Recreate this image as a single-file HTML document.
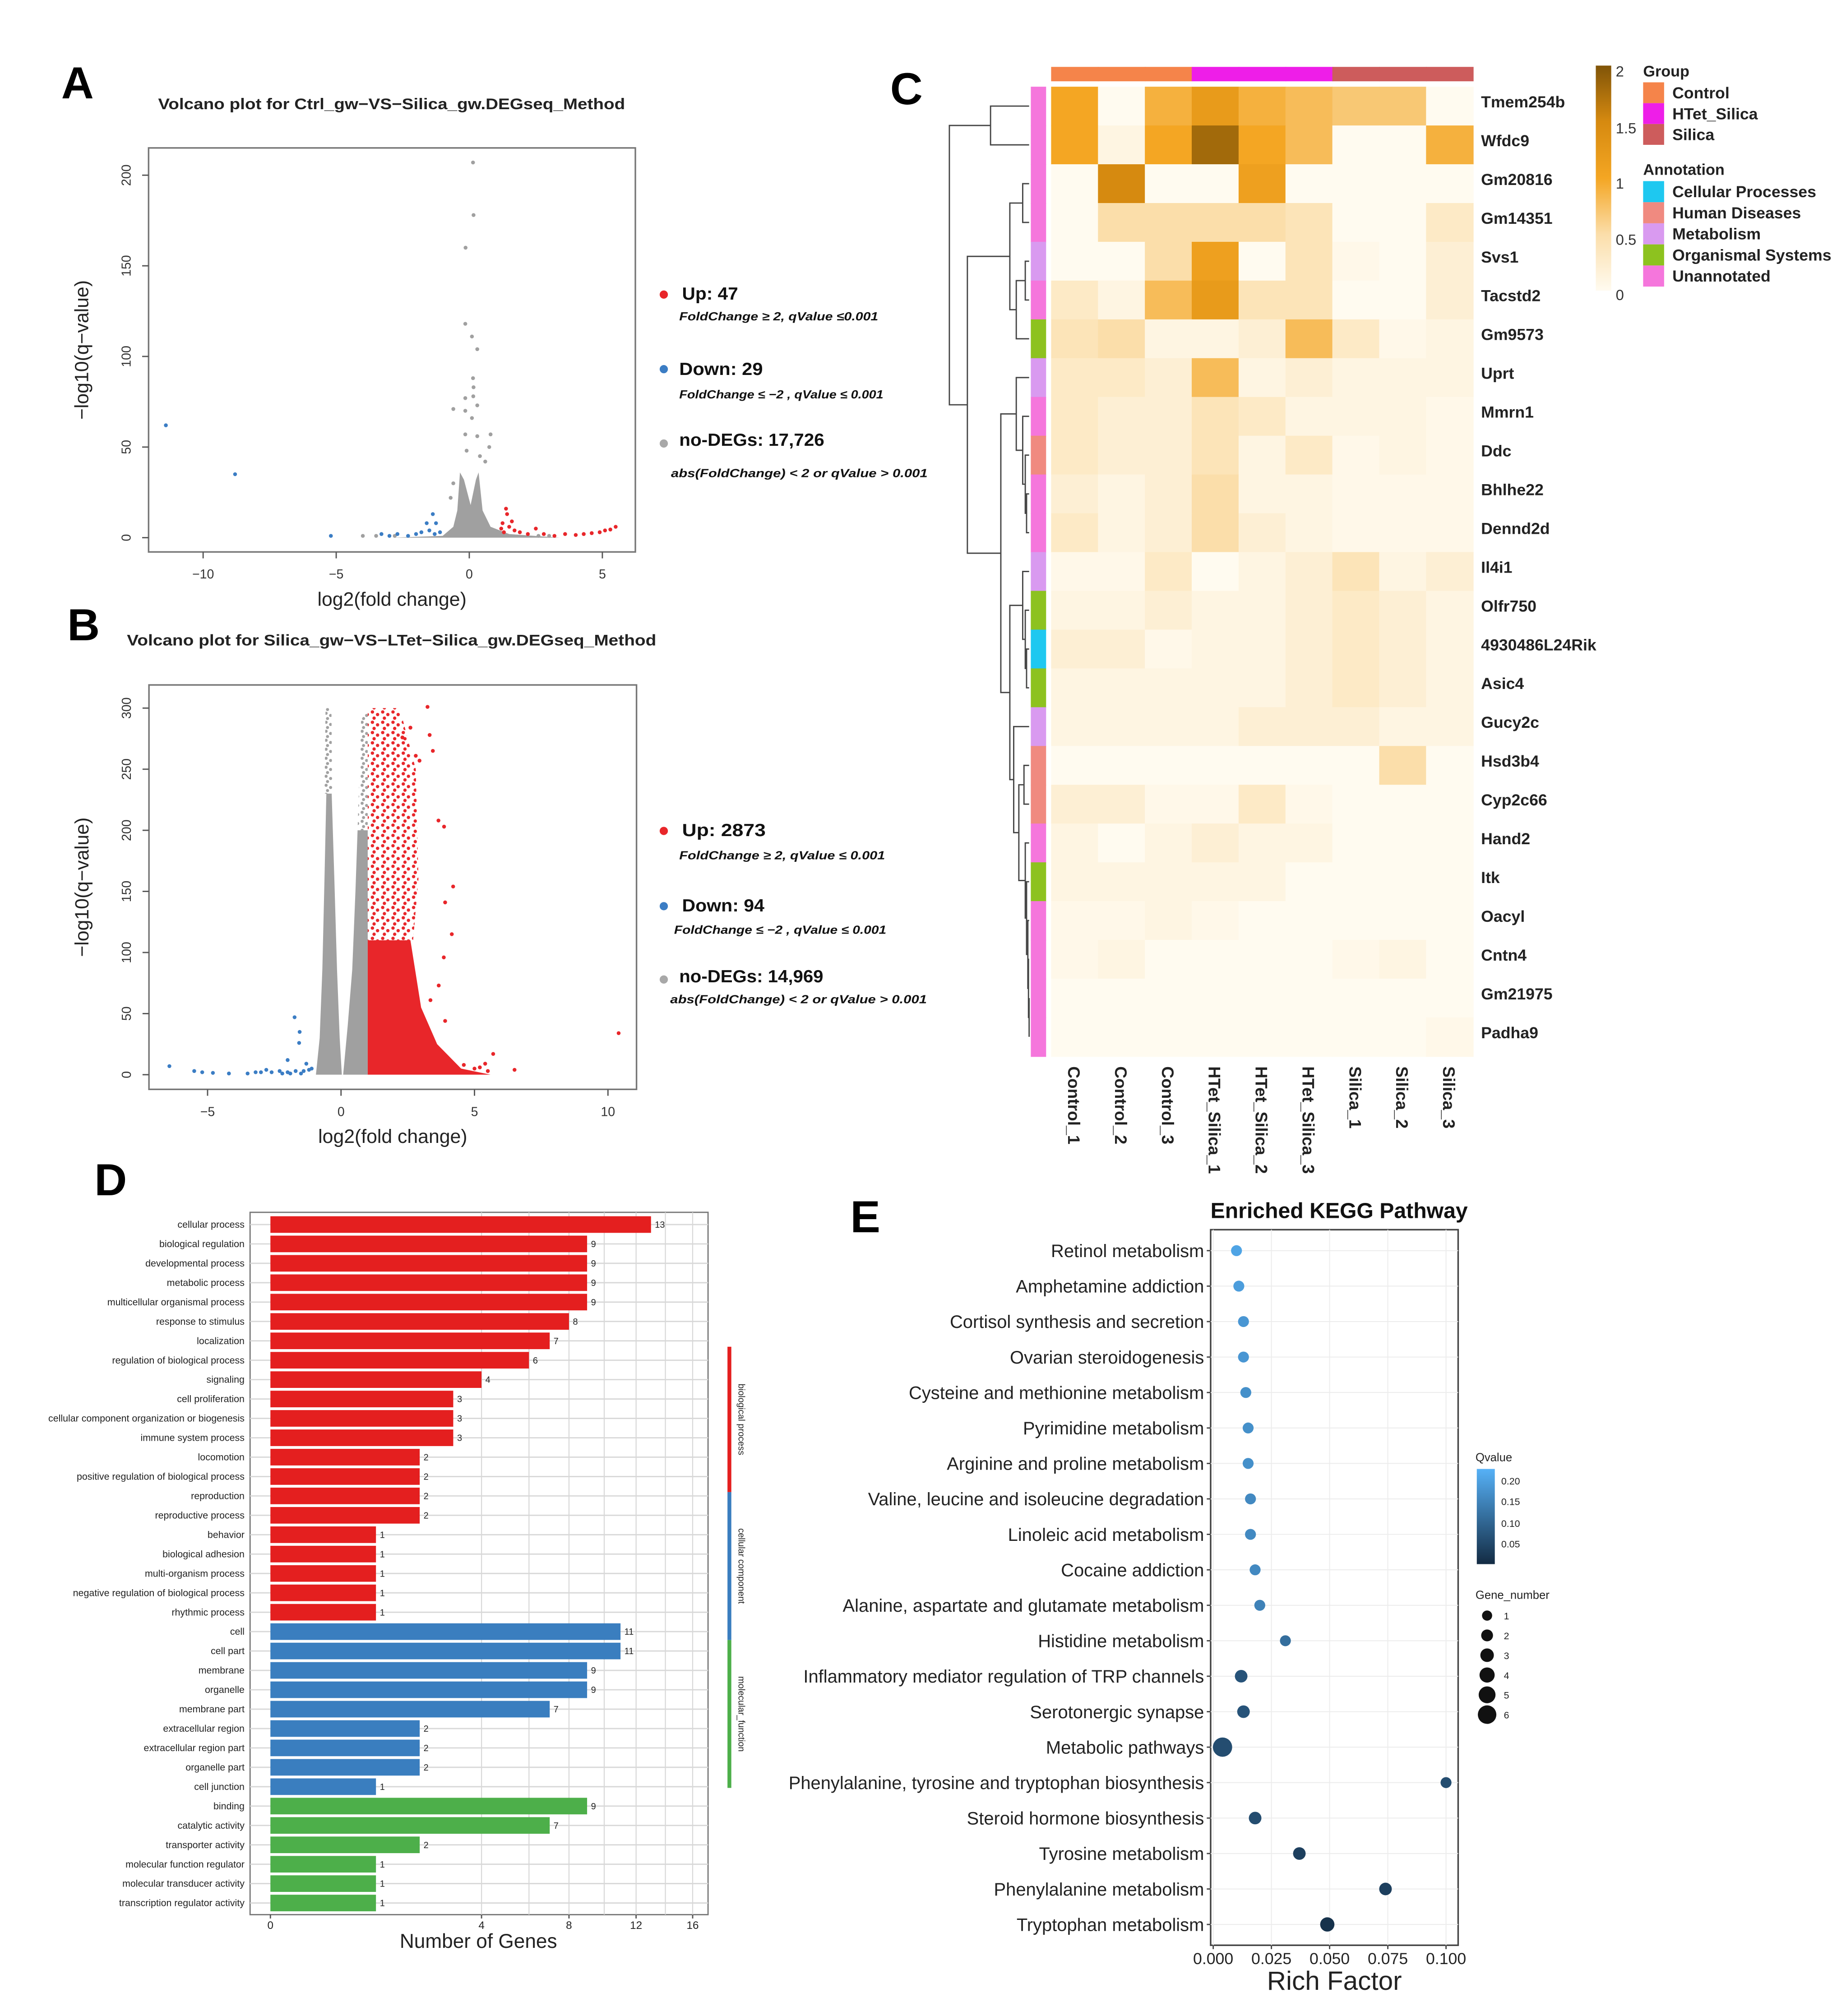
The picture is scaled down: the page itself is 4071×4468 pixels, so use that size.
<!DOCTYPE html>
<html><head><meta charset="utf-8"><style>
html,body{margin:0;padding:0;background:#fff;}
svg{display:block;font-family:"Liberation Sans",Arial,sans-serif;}
.nar{font-family:"Liberation Sans Narrow","Liberation Sans",sans-serif;}
</style></head><body>
<svg id="fig" width="4071" height="4468" viewBox="0 0 1428 1567.3" preserveAspectRatio="none">
<defs>
<pattern id="dotsGray" patternUnits="userSpaceOnUse" width="7" height="7"><circle cx="1.5" cy="1.5" r="1.2" fill="#a0a0a0"/><circle cx="5" cy="3.2" r="1.2" fill="#a0a0a0"/><circle cx="2.6" cy="5.6" r="1.2" fill="#a0a0a0"/></pattern>
<pattern id="dotsRed" patternUnits="userSpaceOnUse" width="8" height="8"><circle cx="1.5" cy="1.5" r="1.3" fill="#e8262a"/><circle cx="5.5" cy="3.5" r="1.3" fill="#e8262a"/><circle cx="2.8" cy="6.3" r="1.3" fill="#e8262a"/></pattern>
</defs>
<rect width="1428" height="1568" fill="#fff"/>
<g id="gA"></g>
<g id="gB"></g>
<g id="gC"></g>
<g id="gD"></g>
<g id="gE"></g>
</svg>
<script>
// ---------- DATA ----------
// Panel A volcano
const aGrayEnv=[[-2.9,0],[-1,1],[-0.6,6],[-0.45,15],[-0.35,36],[-0.2,32],[0.05,18],[0.25,32],[0.35,36],[0.5,15],[0.8,6],[1.5,2],[3.4,0]];
const aGrayPts=[[0.14,207],[0.16,178],[-0.14,160],[-0.15,118],[0.1,111],[0.3,104],[0.14,88],[0.16,83],[-0.15,77],[0.15,78],[0.3,73],[-0.6,71],[-0.15,70],[0.1,66],[0.8,57],[-0.15,57],[0.3,56],[0.75,50],[-0.1,48],[0.4,45],[0.6,42],[-0.6,30],[-0.7,22],[-2.8,1],[-3.5,1],[-4,1],[2.6,1],[3,1]];
const aRedPts=[[1.38,16],[1.42,13],[1.2,5],[1.3,3],[1.5,6],[1.7,4],[1.9,3],[2.2,2],[2.5,5],[2.8,2],[3.2,1],[3.6,2],[4,1.5],[4.3,2],[4.6,2.5],[4.9,3],[5.1,4],[5.3,4.5],[5.5,6],[1.6,9],[1.25,8]];
const aBluePts=[[-11.4,62],[-8.8,35],[-5.2,1],[-1.37,13],[-1.6,8],[-1.25,8],[-3.3,2],[-3,1],[-2.7,2],[-2.3,1],[-2,2],[-1.8,3],[-1.5,4],[-1.3,2],[-1.1,3]];
// Panel B volcano
const bGrayDense=[[-0.94,0],[-0.8,30],[-0.7,86],[-0.62,160],[-0.55,230],[-0.35,230],[-0.25,160],[-0.15,86],[-0.05,30],[0.03,0]];
const bGraySparse=[[-0.62,230],[-0.58,300],[-0.36,300],[-0.33,230]];
const bGrayRight=[[0.08,0],[0.25,40],[0.42,86],[0.54,150],[0.62,200],[1,200],[1,0]];
const bGrayRightSparse=[[0.62,200],[0.75,290],[1,300],[1,200]];
const bRedDense=[[1,0],[1,110],[2.6,110],[3.0,55],[3.6,25],[4.5,5],[5.6,0]];
const bRedSparse=[[1,110],[1,300],[2.2,300],[2.8,250],[2.9,160],[2.7,110]];
const bRedPts=[[3.24,301],[3.32,278],[3.44,265],[2.94,257],[3.65,208],[3.86,203],[4.2,154],[3.9,141],[4.15,115],[3.85,96],[3.9,44],[5.7,17],[6.5,4],[10.4,34],[5.0,5],[5.5,3],[3.66,73],[3.35,61],[2.8,261],[2.6,284],[2.3,276],[4.6,8],[5.2,6],[5.4,9]];
const bBluePts=[[-6.43,7],[-1.74,47],[-1.55,35],[-1.57,26],[-2.0,12],[-5.5,3],[-5.2,2],[-4.8,1.5],[-4.2,1],[-3.5,1],[-3,2],[-2.6,2],[-2.3,3],[-2,2],[-1.7,3],[-1.4,3],[-1.2,4],[-1.3,9],[-1.1,5],[-2.2,1],[-1.9,1],[-1.5,1],[-2.8,4],[-3.2,2]];
// Panel C heatmap
const genes=["Tmem254b","Wfdc9","Gm20816","Gm14351","Svs1","Tacstd2","Gm9573","Uprt","Mmrn1","Ddc","Bhlhe22","Dennd2d","Il4i1","Olfr750","4930486L24Rik","Asic4","Gucy2c","Hsd3b4","Cyp2c66","Hand2","Itk","Oacyl","Cntn4","Gm21975","Padha9"];
const samples=["Control_1","Control_2","Control_3","HTet_Silica_1","HTet_Silica_2","HTet_Silica_3","Silica_1","Silica_2","Silica_3"];
const heat=[
[1.0,0,0.9,1.2,0.9,0.8,0.7,0.7,0],
[1.0,0.1,1.0,1.8,1.0,0.8,0,0,0.9],
[0,1.5,0,0,1.1,0,0,0,0],
[0,0.5,0.5,0.5,0.5,0.4,0,0,0.3],
[0,0,0.5,1.1,0,0.4,0.05,0,0.2],
[0.3,0.1,0.8,1.2,0.4,0.4,0,0,0.2],
[0.4,0.5,0.1,0.1,0.2,0.8,0.3,0.05,0.1],
[0.3,0.3,0.2,0.8,0.1,0.2,0.1,0.1,0.1],
[0.3,0.2,0.2,0.4,0.3,0.1,0.1,0.1,0.05],
[0.3,0.2,0.2,0.4,0.1,0.3,0.05,0.1,0.05],
[0.2,0.1,0.2,0.5,0.1,0.1,0.05,0.05,0.05],
[0.3,0.1,0.2,0.5,0.2,0.1,0.05,0.05,0.05],
[0.05,0.05,0.3,0,0.1,0.2,0.4,0.1,0.2],
[0.1,0.1,0.2,0.1,0.1,0.2,0.3,0.2,0.1],
[0.2,0.2,0.05,0.1,0.1,0.2,0.3,0.2,0.1],
[0.1,0.1,0.1,0.1,0.1,0.2,0.3,0.2,0.1],
[0.1,0.1,0.1,0.1,0.2,0.2,0.2,0.1,0.1],
[0,0,0,0,0,0,0,0.5,0],
[0.2,0.2,0.05,0.05,0.3,0.05,0,0,0],
[0.1,0,0.1,0.2,0.1,0.1,0,0,0],
[0.1,0.1,0.1,0.1,0.1,0,0,0,0],
[0.05,0.05,0.1,0.05,0,0,0,0,0],
[0.05,0.1,0,0,0,0,0.05,0.1,0],
[0,0,0,0,0,0,0,0,0],
[0,0,0,0,0,0,0,0,0.05]];
const annot=["U","U","U","U","M","U","O","M","U","H","U","U","M","O","C","O","M","H","H","U","O","U","U","U","U"];
// Panel D GO
const goCats=["cellular process","biological regulation","developmental process","metabolic process","multicellular organismal process","response to stimulus","localization","regulation of biological process","signaling","cell proliferation","cellular component organization or biogenesis","immune system process","locomotion","positive regulation of biological process","reproduction","reproductive process","behavior","biological adhesion","multi-organism process","negative regulation of biological process","rhythmic process","cell","cell part","membrane","organelle","membrane part","extracellular region","extracellular region part","organelle part","cell junction","binding","catalytic activity","transporter activity","molecular function regulator","molecular transducer activity","transcription regulator activity"];
const goVals=[13,9,9,9,9,8,7,6,4,3,3,3,2,2,2,2,1,1,1,1,1,11,11,9,9,7,2,2,2,1,9,7,2,1,1,1];
const goGroup=["b","b","b","b","b","b","b","b","b","b","b","b","b","b","b","b","b","b","b","b","b","c","c","c","c","c","c","c","c","c","m","m","m","m","m","m"];
const goTicks=[0,4,8,12,16];
// Panel E KEGG
const keggPaths=["Retinol metabolism","Amphetamine addiction","Cortisol synthesis and secretion","Ovarian steroidogenesis","Cysteine and methionine metabolism","Pyrimidine metabolism","Arginine and proline metabolism","Valine, leucine and isoleucine degradation","Linoleic acid metabolism","Cocaine addiction","Alanine, aspartate and glutamate metabolism","Histidine metabolism","Inflammatory mediator regulation of TRP channels","Serotonergic synapse","Metabolic pathways","Phenylalanine, tyrosine and tryptophan biosynthesis","Steroid hormone biosynthesis","Tyrosine metabolism","Phenylalanine metabolism","Tryptophan metabolism"];
const keggRich=[0.010,0.011,0.013,0.013,0.014,0.015,0.015,0.016,0.016,0.018,0.020,0.031,0.012,0.013,0.004,0.100,0.018,0.037,0.074,0.049];
const keggQ=[0.20,0.19,0.18,0.18,0.17,0.17,0.17,0.16,0.16,0.16,0.15,0.12,0.08,0.08,0.07,0.07,0.07,0.05,0.05,0.03];
const keggN=[1,1,1,1,1,1,1,1,1,1,1,1,2,2,6,1,2,2,2,3];
const keggTicks=[0,0.025,0.05,0.075,0.1];

// ---------- HELPERS ----------
const NS="http://www.w3.org/2000/svg";
function mk(parent,tag,attrs,text){const e=document.createElementNS(NS,tag);for(const k in attrs)e.setAttribute(k,attrs[k]);if(text!==undefined)e.textContent=text;parent.appendChild(e);return e;}

// ---------- VOLCANO ----------
function volcano(g,cfg){
  const sx=v=>cfg.x0+v*cfg.kx, sy=v=>cfg.y0-v*cfg.ky;
  let e=mk(g,"text",{x:cfg.lx,y:cfg.ly,"font-size":35,"font-weight":"bold"},cfg.letter);
  
  
  e=mk(g,"text",{x:cfg.tx,y:cfg.ty,"font-size":12,"font-weight":"bold","text-anchor":"middle",fill:"#222",textLength:cfg.tw,lengthAdjust:"spacingAndGlyphs"},cfg.title);
  
  
  e=mk(g,"rect",{x:cfg.bx,y:cfg.by,width:cfg.bw,height:cfg.bh,fill:"#fff",stroke:"#777","stroke-width":1.2});
  
  
  cfg.envs.forEach(en=>{const p=mk(g,"polygon",{points:en[0].map(d=>sx(d[0])+","+sy(d[1])).join(" "),fill:en[1],opacity:en[2]});
    
    });
  const pts=(arr,col,name)=>arr.forEach(d=>{const c=mk(g,"circle",{cx:sx(d[0]),cy:sy(d[1]),r:1.5,fill:col});
    
    });
  pts(cfg.grayPts||[],"#a0a0a0","no-deg-point");
  pts(cfg.redPts,"#e8262a","up-point");
  pts(cfg.bluePts,"#3b7dc4","down-point");
  cfg.xt.forEach(v=>{mk(g,"line",{x1:sx(v),x2:sx(v),y1:cfg.by+cfg.bh,y2:cfg.by+cfg.bh+5,stroke:"#555"});
    const t=mk(g,"text",{x:sx(v),y:cfg.xtl,"font-size":10,"text-anchor":"middle",fill:"#333"},v<0?"\u2212"+(-v):v);
    
    });
  cfg.yt.forEach(v=>{mk(g,"line",{x1:cfg.bx-5,x2:cfg.bx,y1:sy(v),y2:sy(v),stroke:"#555"});
    const t=mk(g,"text",{x:cfg.bx-14,y:sy(v),"font-size":10,"text-anchor":"middle",fill:"#333",transform:`rotate(-90 ${cfg.bx-14} ${sy(v)})`},v);
    
    });
  e=mk(g,"text",{x:cfg.bx+cfg.bw/2,y:cfg.xtt,"font-size":15,"text-anchor":"middle",fill:"#222"},"log2(fold change)");
  
  
  const yx=cfg.bx-47, yy=cfg.by+cfg.bh/2;
  e=mk(g,"text",{x:yx,y:yy,"font-size":15,"text-anchor":"middle",fill:"#222",transform:`rotate(-90 ${yx} ${yy})`},"\u2212log10(q\u2212value)");
  
  
  cfg.legend.forEach(L=>{
    const c=mk(g,"circle",{cx:516,cy:L.dy,r:3.2,fill:L.c});
    
    
    const t=mk(g,"text",{x:L.x,y:L.y,"font-size":13.5,"font-weight":"bold",fill:"#111",class:"nar",textLength:L.w,lengthAdjust:"spacingAndGlyphs"},L.t);
    
    
    const s=mk(g,"text",{x:L.sx,y:L.sy,"font-size":9,"font-weight":"bold","font-style":"italic",fill:"#111",class:"nar",textLength:L.sw,lengthAdjust:"spacingAndGlyphs"},L.s);
    
    
  });
}
volcano(document.getElementById("gA"),{letter:"A",lx:47.6,ly:76.4,tx:304.4,ty:84.9,tw:363,title:"Volcano plot for Ctrl_gw\u2212VS\u2212Silica_gw.DEGseq_Method",
  bx:115.5,by:115,bw:378.4,bh:314.1,x0:364.8,kx:20.69,y0:418,ky:1.409,xt:[-10,-5,0,5],yt:[0,50,100,150,200],xtl:449.7,xtt:471,
  envs:[[aGrayEnv,"#a0a0a0",1,"no-deg-cloud"]],grayPts:aGrayPts,redPts:aRedPts,bluePts:aBluePts,
  legend:[{dy:229,c:"#e8262a",x:530.2,y:233,w:43.6,t:"Up: 47",sx:528,sy:249,sw:154.7,s:"FoldChange \u2265  2, qValue  \u22640.001"},
          {dy:287,c:"#3b7dc4",x:528,y:291.5,w:65,t:"Down: 29",sx:528,sy:309.8,sw:158.7,s:"FoldChange \u2264 \u22122 , qValue  \u2264 0.001"},
          {dy:344.8,c:"#a8a8a8",x:528,y:346.6,w:112.8,t:"no-DEGs: 17,726",sx:521.6,sy:370.9,sw:199.5,s:"abs(FoldChange)  < 2 or  qValue  > 0.001"}]});
volcano(document.getElementById("gB"),{letter:"B",lx:52.3,ly:497.8,tx:304.4,ty:501.8,tw:411.5,title:"Volcano plot for Silica_gw\u2212VS\u2212LTet\u2212Silica_gw.DEGseq_Method",
  bx:115.8,by:532.5,bw:379,bh:314.4,x0:265.1,kx:20.75,y0:835.5,ky:0.95,xt:[-5,0,5,10],yt:[0,50,100,150,200,250,300],xtl:867.7,xtt:888.5,
  envs:[[bGrayDense,"#a0a0a0",1,"no-deg-cloud"],[bGraySparse,"url(#dotsGray)",1,"no-deg-cloud-sparse"],[bGrayRight,"#a0a0a0",1,"no-deg-cloud"],[bGrayRightSparse,"url(#dotsGray)",1,"no-deg-cloud-sparse"],[bRedDense,"#e8262a",1,"up-cloud"],[bRedSparse,"url(#dotsRed)",1,"up-cloud-sparse"]],
  redPts:bRedPts,bluePts:bBluePts,
  legend:[{dy:646,c:"#e8262a",x:530.2,y:650,w:65,t:"Up: 2873",sx:528,sy:668,sw:160,s:"FoldChange \u2265  2, qValue  \u2264 0.001"},
          {dy:704.5,c:"#3b7dc4",x:530.2,y:708.5,w:64,t:"Down: 94",sx:524,sy:726,sw:165,s:"FoldChange \u2264 \u22122 , qValue  \u2264 0.001"},
          {dy:761.5,c:"#a8a8a8",x:528,y:763.6,w:112,t:"no-DEGs: 14,969",sx:521,sy:780,sw:199.5,s:"abs(FoldChange)  < 2 or  qValue  > 0.001"}]});

// ---------- HEATMAP ----------
(function(){
  const g=document.getElementById("gC");
  const X0=817.1,Y0=67.4,CW=(1145-817.1)/9,RH=30.15;
  let e=mk(g,"text",{x:692,y:81,"font-size":35,"font-weight":"bold"},"C");
  
  
  const stops=[[0,[255,251,240]],[0.5,[251,222,170]],[1,[244,166,35]],[1.5,[214,138,16]],[2,[128,84,8]]];
  function col(v){v=Math.max(0,Math.min(2,v));for(let i=1;i<stops.length;i++){if(v<=stops[i][0]){const a=stops[i-1],b=stops[i],t=(v-a[0])/(b[0]-a[0]);return "rgb("+a[1].map((c,k)=>Math.round(c+(b[1][k]-c)*t)).join(",")+")";}}}
  const grpCols=["#f5844a","#f5844a","#f5844a","#ee1ee8","#ee1ee8","#ee1ee8","#cd5c5c","#cd5c5c","#cd5c5c"];
  samples.forEach((s,j)=>{const r=mk(g,"rect",{x:X0+j*CW,y:52,width:CW+0.5,height:11.2,fill:grpCols[j]});
    
    
    const cx=X0+j*CW+CW/2-5;
    const t=mk(g,"text",{x:cx,y:829,"font-size":13,"font-weight":"bold",fill:"#222",class:"nar",transform:`rotate(90 ${cx} 829)`},s);
    
    });
  const aCols={U:"#f576dc",M:"#d99af0",O:"#8dc21f",H:"#f08a80",C:"#1ec8f0"};
  genes.forEach((gn,i)=>{
    heat[i].forEach((v,j)=>{const r=mk(g,"rect",{x:X0+j*CW,y:Y0+i*RH,width:CW+0.5,height:RH+0.5,fill:col(v)});
      
      });
    const a=mk(g,"rect",{x:801.3,y:Y0+i*RH,width:11.9,height:RH+0.5,fill:aCols[annot[i]]});
    
    
    const t=mk(g,"text",{x:1151.3,y:Y0+i*RH+RH/2+1,"font-size":12.5,"font-weight":"bold",fill:"#222",class:"nar"},gn);
    
    
  });
  const tree=[738,[770,0,1],[752,[785,[795,2,3],[790,[797,4,5],6]],[778,[790,7,[795,8,[797,9,[798,10,11]]]],[785,[795,12,[797,13,[798,14,15]]],[788,16,[792,[796,17,18],[797,19,[798,20,[799,21,[799.5,22,[800,23,24]]]]]]]]]]];
  function node(n){ if(typeof n==="number")return {x:800,y:Y0+n*RH+RH/2};
    const a=node(n[1]),b=node(n[2]),x=n[0];
    mk(g,"path",{d:`M${a.x},${a.y}H${x}V${b.y}H${b.x}`,fill:"none",stroke:"#444","stroke-width":1});
    return {x:x,y:(a.y+b.y)/2};}
  const root=node(tree);
  const defs=mk(g,"defs",{});const lg=mk(defs,"linearGradient",{id:"hg",x1:0,y1:1,x2:0,y2:0});
  stops.forEach(s=>mk(lg,"stop",{offset:s[0]/2,"stop-color":"rgb("+s[1].join(",")+")"}));
  e=mk(g,"rect",{x:1240.5,y:51,width:12,height:175,fill:"url(#hg)"});
  
  
  [["2",55.5],["1.5",99.6],["1",142.6],["0.5",186.3],["0",229.3]].forEach(d=>{const t=mk(g,"text",{x:1256,y:d[1]+4,"font-size":11.5,fill:"#333",class:"nar"},d[0]);
    
    });
  e=mk(g,"text",{x:1277.3,y:59.5,"font-size":12,"font-weight":"bold",fill:"#222",class:"nar"},"Group");
  
  
  [["Control","#f5844a"],["HTet_Silica","#ee1ee8"],["Silica","#cd5c5c"]].forEach((d,i)=>{const y=64+i*16.2;
    const r=mk(g,"rect",{x:1277.3,y:y,width:16.3,height:16.2,fill:d[1]});
    
    
    const t=mk(g,"text",{x:1300,y:y+12.5,"font-size":12.5,"font-weight":"bold",fill:"#222",class:"nar"},d[0]);
    
    });
  e=mk(g,"text",{x:1277.3,y:135.9,"font-size":12,"font-weight":"bold",fill:"#222",class:"nar"},"Annotation");
  
  
  [["Cellular Processes","#1ec8f0"],["Human Diseases","#f08a80"],["Metabolism","#d99af0"],["Organismal Systems","#8dc21f"],["Unannotated","#f576dc"]].forEach((d,i)=>{const y=140.8+i*16.4;
    const r=mk(g,"rect",{x:1277.3,y:y,width:16.3,height:16.4,fill:d[1]});
    
    
    const t=mk(g,"text",{x:1300,y:y+12.5,"font-size":12.5,"font-weight":"bold",fill:"#222",class:"nar"},d[0]);
    
    });
})();

// ---------- GO BARS ----------
(function(){
  const g=document.getElementById("gD");
  const bx=194.4,by=942.5,bw=356,bh=546,x0=210.2,k=82.06;
  const sx=v=>x0+k*Math.sqrt(v);
  const yStep=15.07, sy=i=>952+i*yStep;
  let e=mk(g,"text",{x:73.4,y:929.2,"font-size":35,"font-weight":"bold"},"D");
  
  
  e=mk(g,"rect",{x:bx,y:by,width:bw,height:bh,fill:"#fff",stroke:"#777","stroke-width":1});
  
  
  for(let v=4;v<=16;v+=2)mk(g,"line",{x1:sx(v),x2:sx(v),y1:by,y2:by+bh,stroke:"#d8d8d8","stroke-width":0.8});
  goCats.forEach((c,i)=>mk(g,"line",{x1:bx,x2:bx+bw,y1:sy(i),y2:sy(i),stroke:"#d8d8d8","stroke-width":1}));
  const gc={b:"#e41f1f",c:"#3a7ebf",m:"#4daf4a"};
  goCats.forEach((c,i)=>{
    const r=mk(g,"rect",{x:x0,y:sy(i)-6.45,width:sx(goVals[i])-x0,height:12.9,fill:gc[goGroup[i]]});
    
    
    const t=mk(g,"text",{x:190.1,y:sy(i)+2.5,"font-size":7.5,"text-anchor":"end",fill:"#222",class:"nar"},c);
    
    
    const v=mk(g,"text",{x:sx(goVals[i])+3,y:sy(i)+2.5,"font-size":7,fill:"#222"},goVals[i]);
    
    
  });
  goTicks.forEach(v=>{mk(g,"line",{x1:sx(v),x2:sx(v),y1:by+bh,y2:by+bh+3,stroke:"#555"});
    const t=mk(g,"text",{x:sx(v),y:1499.6,"font-size":8.5,"text-anchor":"middle",fill:"#222"},v);
    
    });
  e=mk(g,"text",{x:371.9,y:1514.3,"font-size":15.5,"text-anchor":"middle",fill:"#222"},"Number of Genes");
  
  
  [["biological process","#e41f1f",1047,1160],["cellular component","#3a7ebf",1160,1275],["molecular_function","#4daf4a",1275,1390]].forEach(d=>{
    const l=mk(g,"line",{x1:567,x2:567,y1:d[2],y2:d[3],stroke:d[1],"stroke-width":3});
    
    
    const cy=(d[2]+d[3])/2;
    const t=mk(g,"text",{x:574,y:cy,"font-size":7,"text-anchor":"middle",fill:"#222",transform:`rotate(90 574 ${cy})`},d[0]);
    
    });
})();

// ---------- KEGG DOTS ----------
(function(){
  const g=document.getElementById("gE");
  const bx=941.1,by=956,bw=192.4,bh=556.3,x0=943.1,k=1809.8;
  const sx=v=>x0+v*k, yStep=27.57, sy=i=>972.3+i*yStep;
  const qmin=0.02,qmax=0.22;
  function qc(q){const t=Math.max(0,Math.min(1,(q-qmin)/(qmax-qmin)));const a=[19,43,67],b=[86,177,247];return "rgb("+a.map((c,i)=>Math.round(c+(b[i]-c)*t)).join(",")+")";}
  const rad=n=>3.6+0.65*n;
  let e=mk(g,"text",{x:661,y:958,"font-size":35,"font-weight":"bold"},"E");
  
  
  e=mk(g,"text",{x:941,y:947,"font-size":16.9,"font-weight":"bold",fill:"#111"},"Enriched KEGG Pathway");
  
  
  e=mk(g,"rect",{x:bx,y:by,width:bw,height:bh,fill:"#fff",stroke:"#444","stroke-width":1.2});
  
  
  keggTicks.forEach(v=>mk(g,"line",{x1:sx(v),x2:sx(v),y1:by,y2:by+bh,stroke:"#ececec","stroke-width":0.7}));
  keggPaths.forEach((p,i)=>{
    mk(g,"line",{x1:bx,x2:bx+bw,y1:sy(i),y2:sy(i),stroke:"#ececec","stroke-width":0.7});
    const t=mk(g,"text",{x:936,y:sy(i)+5,"font-size":14,"text-anchor":"end",fill:"#222"},p);
    
    
    mk(g,"line",{x1:bx-3,x2:bx,y1:sy(i),y2:sy(i),stroke:"#444"});
  });
  keggPaths.forEach((p,i)=>{
    const c=mk(g,"circle",{cx:sx(keggRich[i]),cy:sy(i),r:rad(keggN[i]),fill:qc(keggQ[i])});
    
    });
  keggTicks.forEach(v=>{mk(g,"line",{x1:sx(v),x2:sx(v),y1:by+bh,y2:by+bh+3,stroke:"#444"});
    const t=mk(g,"text",{x:sx(v),y:1527,"font-size":12.5,"text-anchor":"middle",fill:"#222"},v.toFixed(3));
    
    });
  e=mk(g,"text",{x:1037.3,y:1547,"font-size":20.5,"text-anchor":"middle",fill:"#222",class:"nar"},"Rich Factor");
  
  
  e=mk(g,"text",{x:1147,y:1136,"font-size":9,fill:"#222"},"Qvalue");
  
  
  const defs=mk(g,"defs",{});const lg=mk(defs,"linearGradient",{id:"qg",x1:0,y1:1,x2:0,y2:0});
  mk(lg,"stop",{offset:0,"stop-color":"#132b43"});mk(lg,"stop",{offset:1,"stop-color":"#56b1f7"});
  e=mk(g,"rect",{x:1148,y:1142,width:14,height:74,fill:"url(#qg)"});
  
  
  [["0.20",1151],["0.15",1167],["0.10",1184],["0.05",1200]].forEach(d=>{const t=mk(g,"text",{x:1167,y:d[1]+3,"font-size":7.5,fill:"#222"},d[0]);
    
    });
  e=mk(g,"text",{x:1147,y:1243,"font-size":9,fill:"#222"},"Gene_number");
  
  
  [1,2,3,4,5,6].forEach((n,i)=>{const y=1256+i*15.4;
    const c=mk(g,"circle",{cx:1156,cy:y,r:rad(n)-0.3,fill:"#111"});
    
    
    const t=mk(g,"text",{x:1169,y:y+3,"font-size":7.5,fill:"#222"},n);
    
    });
})();
</script>
</body></html>
